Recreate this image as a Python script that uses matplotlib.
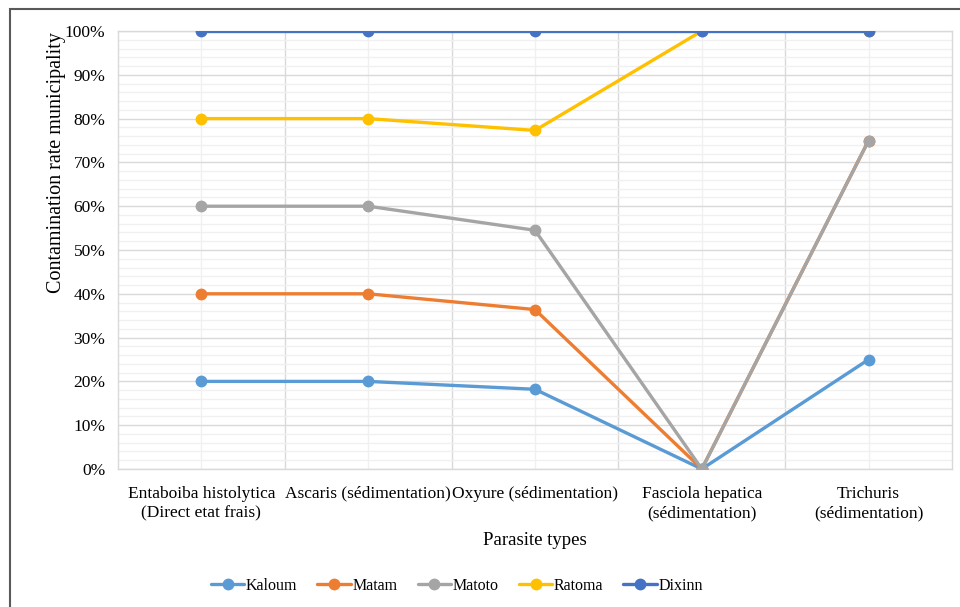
import numpy as np
import matplotlib
matplotlib.use('Agg')
import matplotlib.pyplot as plt
from matplotlib.patches import Rectangle
from matplotlib.ticker import MultipleLocator, PercentFormatter

plt.rcParams['font.family'] = ['Liberation Serif', 'DejaVu Serif']

# data (contamination rate per municipality, %)
categories = ['Entaboiba histolytica\n(Direct etat frais)',
              'Ascaris (sédimentation)',
              'Oxyure (sédimentation)',
              'Fasciola hepatica\n(sédimentation)',
              'Trichuris\n(sédimentation)']
kaloum = [20, 20, 18.2, 0, 25]
matam = [40, 40, 36.4, 0, 75]
matoto = [60, 60, 54.5, 0, 75]
ratoma = [80, 80, 77.3, 100, 100]
dixinn = [100, 100, 100, 100, 100]

series_names = ['Kaloum', 'Matam', 'Matoto', 'Ratoma', 'Dixinn']
series_vals = [kaloum, matam, matoto, ratoma, dixinn]
colors = ['#5B9BD5', '#ED7D31', '#A5A5A5', '#FFC000', '#4472C4']

fig = plt.figure(figsize=(9.6, 6.07), dpi=100)
ax = fig.add_axes([118/960, 1-469/607, (952-118)/960, (469-31)/607])

x = np.arange(len(categories))
for name, vals, c in zip(series_names, series_vals, colors):
    ax.plot(x, vals, color=c, lw=2.4, marker='o', ms=7.5, label=name,
            solid_capstyle='round', zorder=3)

ax.set_xlim(-0.5, len(categories) - 0.5)
ax.set_ylim(0, 100)
ax.yaxis.set_major_locator(MultipleLocator(10))
ax.yaxis.set_minor_locator(MultipleLocator(2))
ax.yaxis.set_major_formatter(PercentFormatter(decimals=0))
ax.set_xticks(x)
ax.set_xticklabels(categories, fontsize=12.5, linespacing=1.3)

# excel-like gridlines
ax.grid(axis='y', which='major', color='#d9d9d9', lw=1, zorder=0)
ax.grid(axis='y', which='minor', color='#f0f0f0', lw=1, zorder=0)
for v in np.arange(0.5, len(categories) - 1, 1):
    ax.axvline(v, color='#d9d9d9', lw=1, zorder=0)
for v in x:
    ax.axvline(v, color='#f0f0f0', lw=1, zorder=0)

ax.tick_params(axis='both', which='both', length=0)
ax.tick_params(axis='y', labelsize=12.5, pad=9)
ax.tick_params(axis='x', pad=12)
for s in ax.spines.values():
    s.set_color('#d9d9d9')
    s.set_linewidth(1)

ax.set_xlabel('Parasite types', fontsize=13.5, labelpad=8)
ax.set_ylabel('Contamination rate municipality', fontsize=14.5)
ax.yaxis.set_label_coords(-0.062, 0.70)

fig.legend(loc='center', bbox_to_anchor=(0.476, 1-586/607), ncol=5,
           frameon=False, fontsize=11.5, handlelength=2.1, handletextpad=0.1,
           columnspacing=1.25)

# outer chart frame (right and bottom edges fall outside the image)
fig.patches.append(Rectangle((10/960, -0.1), 1.2, 0.1 + (607-9)/607,
                             transform=fig.transFigure, fill=False,
                             edgecolor='#595959', lw=1.5))

plt.savefig('out.png', dpi=100)
